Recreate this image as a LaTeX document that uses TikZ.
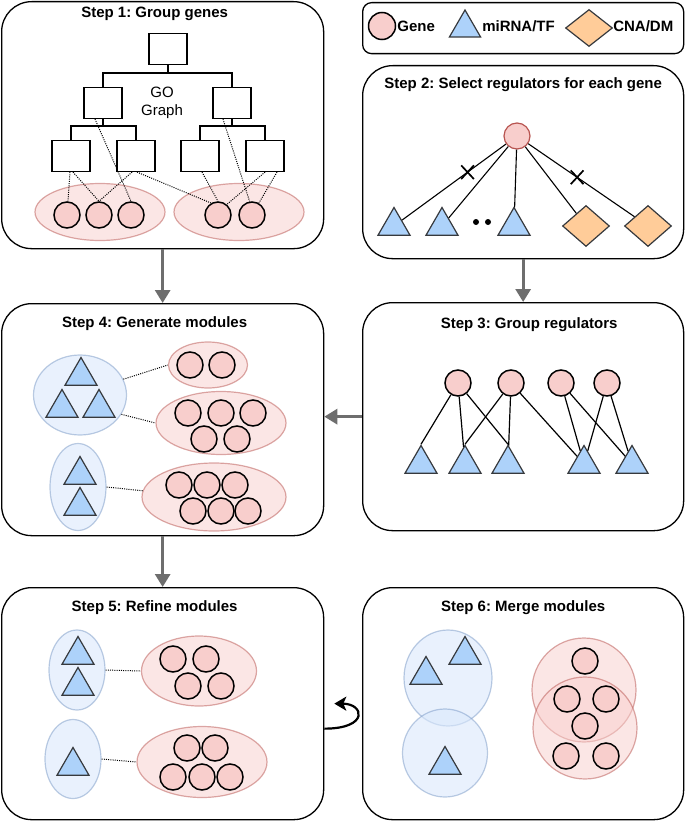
\documentclass[tikz,border=0pt]{standalone}
\usepackage{fontspec}
\setmainfont{Liberation Sans}
\usepackage{xcolor}
\usetikzlibrary{positioning, arrows.meta, shapes.geometric, shapes.misc}
\frenchspacing
\definecolor{genefill}{HTML}{F8CECC}
\definecolor{geneline}{HTML}{B85450}
\definecolor{regfill}{HTML}{ADD2FA}
\definecolor{regline}{HTML}{36393D}
\definecolor{grpblue}{HTML}{DAE8FC}
\definecolor{grpblueline}{HTML}{6C8EBF}
\definecolor{cnafill}{HTML}{FFCC99}
\definecolor{flowgray}{HTML}{6E6E6E}
\tikzset{
    panel/.style={draw, line width=1.3pt, rounded corners=30pt, inner sep=0pt, anchor=north west}, % one box per step
    title/.style={font=\bfseries\fontsize{15}{18}\selectfont, inner sep=0pt},
    gene/.style={circle, draw, line width=1.5pt, fill=genefill, minimum size=26pt, inner sep=0pt},
    reg/.style={regular polygon, regular polygon sides=3, draw=regline, line width=1.2pt, fill=regfill, minimum size=37pt, inner sep=0pt}, % miRNA/TF
    cna/.style={diamond, draw=regline, line width=1.2pt, fill=cnafill, minimum width=47pt, minimum height=41pt, inner sep=0pt}, % CNA/DM
    gobox/.style={draw, line width=1.2pt, minimum width=38pt, minimum height=31pt},
    genegrp/.style={ellipse, draw=geneline, draw opacity=0.5, fill=genefill, fill opacity=0.5, line width=1.2pt, inner sep=0pt},
    reggrp/.style={ellipse, draw=grpblueline, draw opacity=0.45, fill=grpblue, fill opacity=0.6, line width=1.2pt, inner sep=0pt},
    dotlink/.style={line width=1pt, dash pattern=on 1pt off 1.2pt},
    cutmark/.style={cross out, draw, line width=1.7pt, minimum width=11pt, minimum height=12pt, inner sep=0pt},
    dot/.style={circle, fill, minimum size=6pt, inner sep=0pt},
    backarrow/.style={line width=2.2pt, -{Stealth[length=12pt, width=14pt, inset=3pt]}},
}
\tikzstyle{arrow} = [line width=3pt, draw=flowgray, -{Triangle[length=13pt, width=15pt, fill=flowgray]}]

\begin{document}
\begin{tikzpicture}[x=1pt, y=-1pt]
\useasboundingbox (0,0) rectangle (685,821);

% panels
\node[panel, minimum width=322pt, minimum height=247pt] (s1) at (1,1) {};
\node[panel, rounded corners=9pt, minimum width=321pt, minimum height=51pt] (legend) at (362,2) {};
\node[panel, minimum width=321pt, minimum height=193pt] (s2) at (362,65) {};
\node[panel, minimum width=321pt, minimum height=228pt] (s3) at (362,302) {};
\node[panel, minimum width=322pt, minimum height=232pt] (s4) at (1,303) {};
\node[panel, minimum width=322pt, minimum height=232pt] (s5) at (1,587) {};
\node[panel, minimum width=321pt, minimum height=232pt] (s6) at (362,587) {};

\node[title, below=6pt of s1.north, xshift=-8pt] (t1) {Step 1: Group genes};
\node[title, below=12pt of s2.north] (t2) {Step 2: Select regulators for each gene};
\node[title, below=15pt of s3.north, xshift=6pt] (t3) {Step 3: Group regulators};
\node[title, below=13pt of s4.north, xshift=-8pt] (t4) {Step 4: Generate modules};
\node[title, below=13pt of s5.north, xshift=-8pt] (t5) {Step 5: Refine modules};
\node[title, below=13pt of s6.north] (t6) {Step 6: Merge modules};

% legend
\node[gene, minimum size=27pt] (lgene) at (382,26) {};
\node[title, right=1pt of lgene] (lgenetxt) {Gene};
\node[reg, minimum size=36pt] (lreg) at (465,28) {};
\node[title, right=6pt of lreg, yshift=2pt] (lregtxt) {miRNA/TF};
\node[cna, minimum height=37pt] (lcna) at (589,28) {};
\node[title, right=0pt of lcna, yshift=2pt] (lcnatxt) {CNA/DM};

% step 1: GO graph
\node[gobox] (go0) at (168,49) {};
\node[gobox] (go1) at (103,103) {};
\node[gobox] (go2) at (232,103) {};
\node[gobox] (go3) at (71,156) {};
\node[gobox] (go4) at (136,156) {};
\node[gobox] (go5) at (200,156) {};
\node[gobox] (go6) at (265,156) {};
\node[align=center, font=\fontsize{15}{18}\selectfont] (golabel) at (162,103) {GO\\Graph};
\draw[line width=1.2pt] (go0.south) -- ++(0,8) -| (go1.north);
\draw[line width=1.2pt] (go0.south) -- ++(0,8) -| (go2.north);
\draw[line width=1.2pt] (go1.south) -- ++(0,7) -| (go3.north);
\draw[line width=1.2pt] (go1.south) -- ++(0,7) -| (go4.north);
\draw[line width=1.2pt] (go2.south) -- ++(0,7) -| (go5.north);
\draw[line width=1.2pt] (go2.south) -- ++(0,7) -| (go6.north);

\node[genegrp, minimum width=130pt, minimum height=57pt] (grp1) at (100,212) {};
\node[genegrp, minimum width=130pt, minimum height=57pt] (grp2) at (239,212) {};
\foreach \x [count=\i] in {67,99,131,218,252}
    \node[gene] (g1\i) at (\x,215) {};

\draw[dotlink] ([xshift=-1pt]go3.south) -- (g11);
\draw[dotlink] ([xshift=2pt]go3.south) -- (g12.north);
\draw[dotlink] ([xshift=-8pt]go1.south) -- (g13.north);
\draw[dotlink] ([xshift=-4pt]go4.south) -- (g12.north);
\draw[dotlink] ([xshift=1pt]go4.south) -- (g14.120);
\draw[dotlink] ([xshift=2pt]go5.south) -- (g14.north);
\draw[dotlink] ([xshift=-9pt]go2.south) -- (g15.100);
\draw[dotlink] (go6.south) -- (g14.50);
\draw[dotlink] ([xshift=12pt]go6.south) -- (g15.60);

% step 2: select regulators
\node[gene, draw=geneline, line width=1.2pt] (s2g) at (517,136) {};
\node[reg] (s2r1) at (394,226) {};
\node[reg] (s2r2) at (442,226) {};
\node[reg] (s2r3) at (514,226) {};
\node[dot] (s2d1) at (476,222) {};
\node[dot] (s2d2) at (488,222) {};
\node[cna] (s2c1) at (586,226) {};
\node[cna] (s2c2) at (648,226) {};
\draw[line width=1.1pt] (s2g) -- node[cutmark, pos=0.37] {} (s2r1);
\draw[line width=1.1pt] (s2g) -- (s2r2);
\draw[line width=1.1pt] (s2g) -- (s2r3);
\draw[line width=1.1pt] (s2g) -- (s2c1);
\draw[line width=1.1pt] (s2g) -- node[cutmark, pos=0.46] {} (s2c2);

% step 3: group regulators
\foreach \x [count=\i] in {458,511,561,607}
    \node[gene] (s3g\i) at (\x,383) {};
\foreach \x [count=\i] in {421,465,508,584,632}
    \node[reg] (s3r\i) at (\x,464) {};
\draw[line width=1.2pt] (s3g1) -- (s3r1.corner 1);
\draw[line width=1.2pt] (s3g1) -- (s3r2);
\draw[line width=1.2pt] (s3g1) -- (s3r3.corner 1);
\draw[line width=1.2pt] (s3g2) -- (s3r2.corner 1);
\draw[line width=1.2pt] (s3g2) -- (s3r3);
\draw[line width=1.2pt] (s3g2) -- (s3r4);
\draw[line width=1.2pt] (s3g3) -- (s3r4);
\draw[line width=1.2pt] (s3g3) -- (s3r5);
\draw[line width=1.2pt] (s3g4) -- (s3r4);
\draw[line width=1.2pt] (s3g4) -- (s3r5);

% step 4: generate modules
\node[reggrp, minimum width=93pt, minimum height=80pt] (m4a) at (80,395) {};
\node[reg] (m4r1) at (81,376) {};
\node[reg] (m4r2) at (62,408) {};
\node[reg] (m4r3) at (99,408) {};
\node[genegrp, minimum width=79pt, minimum height=46pt] (m4b1) at (208,365) {};
\foreach \x [count=\i] in {190,222}
    \node[gene] (m4g\i) at (\x,365) {};
\node[genegrp, minimum width=130pt, minimum height=63pt] (m4b2) at (221,423) {};
\foreach \x/\y [count=\i] in {188/413,221/413,253/413,204/439,237/439}
    \node[gene] (m4h\i) at (\x,\y) {};
\node[reggrp, minimum width=56pt, minimum height=87pt] (m4c) at (78,487) {};
\node[reg] (m4r4) at (80,475) {};
\node[reg] (m4r5) at (80,506) {};
\node[genegrp, minimum width=144pt, minimum height=68pt] (m4b3) at (214,497) {};
\foreach \x/\y [count=\i] in {179/485,207/485,235/485,193/511,221/511,248/511}
    \node[gene] (m4k\i) at (\x,\y) {};
\draw[dotlink] (m4a.20) -- (m4b1.west);
\draw[dotlink] (m4a.-25) -- (m4b2.west);
\draw[dotlink] (m4c.east) -- (m4b3.175);

% step 5: refine modules
\node[reggrp, minimum width=56pt, minimum height=80pt] (m5a) at (77,670) {};
\node[reg] (m5r1) at (78,655) {};
\node[reg] (m5r2) at (78,686) {};
\node[genegrp, minimum width=115pt, minimum height=70pt] (m5b) at (199,671) {};
\foreach \x/\y [count=\i] in {173/659,206/659,188/686,221/686}
    \node[gene] (m5g\i) at (\x,\y) {};
\node[reggrp, minimum width=56pt, minimum height=79pt] (m5c) at (73,759) {};
\node[reg] (m5r3) at (73,766) {};
\node[genegrp, minimum width=130pt, minimum height=71pt] (m5d) at (202,762) {};
\foreach \x/\y [count=\i] in {187/748,215/748,173/777,202/777,230/777}
    \node[gene] (m5h\i) at (\x,\y) {};
\draw[dotlink] (m5a.east) -- (m5b.west);
\draw[dotlink] (m5c.east) -- (m5d.west);

% step 6: merge modules
\node[reggrp, minimum width=88pt, minimum height=96pt] (m6a) at (448,678) {};
\node[reggrp, minimum width=85pt, minimum height=88pt] (m6b) at (445,753) {};
\node[reg] (m6r1) at (426,675) {};
\node[reg] (m6r2) at (465,655) {};
\node[reg] (m6r3) at (445,765) {};
\node[genegrp, minimum width=104pt, minimum height=104pt] (m6c) at (584,690) {};
\node[genegrp, minimum width=104pt, minimum height=102pt] (m6d) at (585,728) {};
\foreach \x/\y [count=\i] in {585/661,567/699,606/699,585/726,566/756,606/756}
    \node[gene] (m6g\i) at (\x,\y) {};

% flow between the steps
\draw[arrow] (s1) -- (s4);
\draw[arrow] (s2) -- (s3);
\draw[arrow] (s3.west) -- (s4.east |- s3.west);
\draw[arrow] (s4) -- (s5);
\draw[backarrow] ([yshift=-25pt]s5.east) .. controls +(45,0) and +(30,0) .. ([xshift=10pt]s5.east);

\end{tikzpicture}
\end{document}
